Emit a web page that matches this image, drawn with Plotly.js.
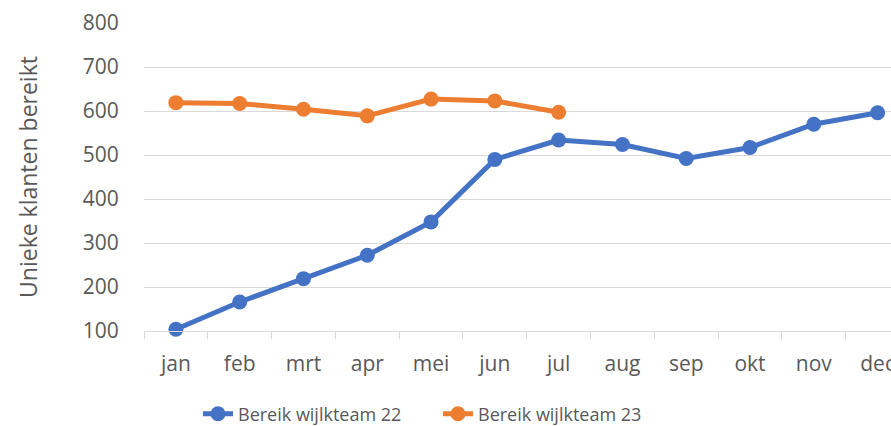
<!DOCTYPE html>
<html>
<head>
<meta charset="utf-8">
<script src="https://cdn.plot.ly/plotly-3.0.1.min.js"></script>
<style>html,body{margin:0;padding:0;background:#fff;overflow:hidden}</style>
</head>
<body>
<div id="chart" style="width:891px;height:426px"></div>
<script>
const months = ["jan","feb","mrt","apr","mei","jun","jul","aug","sep","okt","nov","dec"];
const team22 = [104,166,219,272,348,490,534,524,492,517,570,596];
const team23 = [619,617,604,589,627,623,597];
const name22 = "Bereik wijlkteam 22";
const name23 = "Bereik wijlkteam 23";
const yTitle = "Unieke klanten bereikt";

const FONT = "Open Sans, Noto Sans, sans-serif";
const traces = [
  {x: months, y: team22, name: name22, type: "scatter", mode: "lines+markers",
   line: {color: "#4472C4", width: 5}, marker: {color: "#4472C4", size: 15}, cliponaxis: false},
  {x: months.slice(0, team23.length), y: team23, name: name23, type: "scatter", mode: "lines+markers",
   line: {color: "#ED7D31", width: 5}, marker: {color: "#ED7D31", size: 15}, cliponaxis: false}
];
const layout = {
  width: 891, height: 426,
  margin: {l: 144, r: 0, t: 23, b: 95, autoexpand: false},
  paper_bgcolor: "#fff", plot_bgcolor: "#fff",
  font: {family: FONT, color: "#595959", size: 19},
  showlegend: true,
  legend: {orientation: "h", xref: "container", yref: "container", x: 198/891, xanchor: "left",
           y: 12/426, yanchor: "middle",
           font: {size: 18, color: "#595959"}, entrywidth: 195, entrywidthmode: "pixels", tracegroupgap: 0},
  xaxis: {type: "category", range: [-0.5, 11.21], showgrid: false,
          showline: true, linecolor: "#d9d9d9", linewidth: 1,
          ticks: "outside", tickson: "boundaries", ticklen: 7, tickcolor: "#d9d9d9",
          tickfont: {size: 21, color: "#595959"}, ticklabelstandoff: 14, fixedrange: true},
  yaxis: {range: [100, 800], dtick: 100, showgrid: true, gridcolor: "#d9d9d9", gridwidth: 1,
          zeroline: false, showline: false, ticks: "outside", ticklen: 20, tickcolor: "rgba(0,0,0,0)",
          tickfont: {size: 21, color: "#595959"},
          title: {text: yTitle, font: {size: 23, color: "#595959"}, standoff: 38}, fixedrange: true}
};
Plotly.newPlot("chart", traces, layout, {displayModeBar: false, staticPlot: true});
</script>
</body>
</html>
